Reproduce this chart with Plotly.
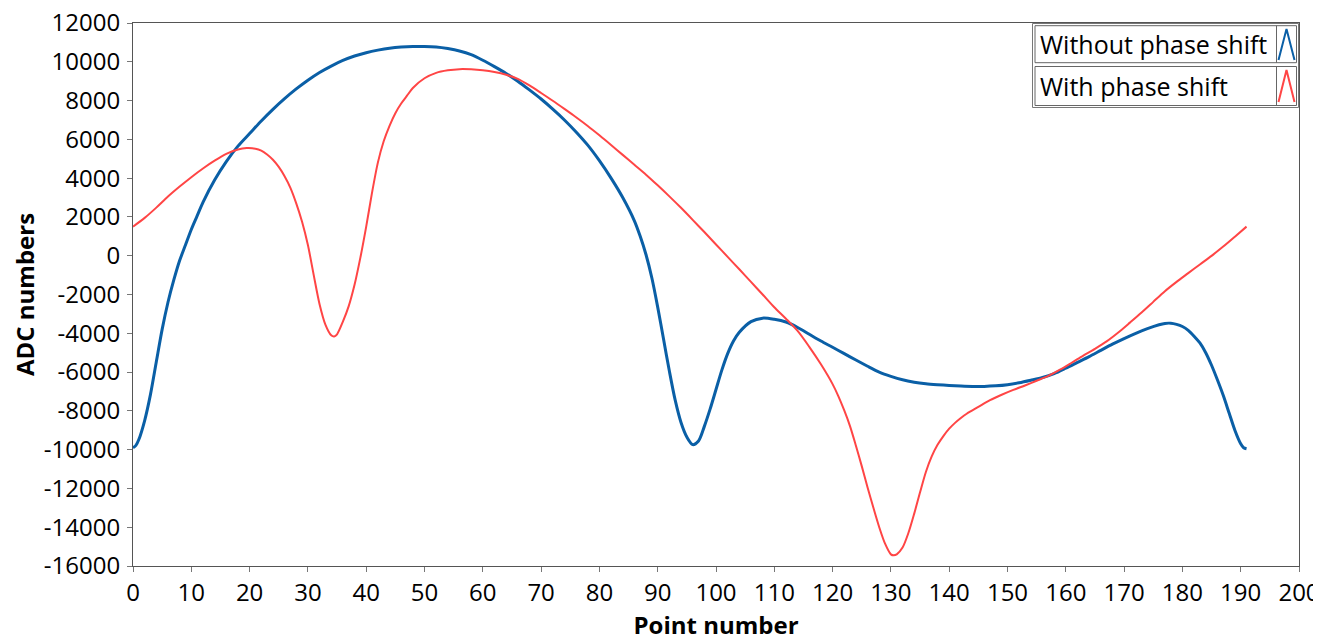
import plotly.graph_objects as go

# ---- data ----
blue_x = [0, 0.5, 1, 2, 3, 4, 5, 6, 7, 8, 9, 10, 11, 12, 14, 16, 18, 20, 22, 24, 26, 28, 30, 32, 34,
          36, 38, 40, 42, 44, 46, 48, 50, 52, 54, 56, 58, 60, 62, 64, 66, 68, 70, 72, 74, 76, 78,
          80, 82, 84, 86, 87, 88, 89, 90, 91, 92, 93, 94, 95, 96, 97, 98, 99, 100, 101, 102, 103,
          104, 106, 108, 110, 112, 114, 116, 118, 120, 122, 124, 126, 128, 130, 132, 134, 136,
          138, 140, 142, 144, 146, 148, 150, 152, 154, 156, 158, 160, 162, 164, 166, 168, 170,
          172, 174, 176, 177, 178, 179, 180, 181, 182, 183, 184, 185, 186, 187, 188, 189, 190,
          190.5, 191]
blue_y = [-9900, -9780, -9480, -8500, -7150, -5470, -3800, -2400, -1250, -250, 550, 1350, 2050,
          2750, 3900, 4850, 5650, 6300, 6950, 7550, 8100, 8600, 9050, 9450, 9780, 10070, 10300,
          10470, 10600, 10700, 10760, 10790, 10790, 10760, 10680, 10560, 10370, 10080, 9750,
          9400, 9000, 8550, 8080, 7560, 7000, 6380, 5700, 4900, 4000, 3000, 1800, 1000, 50,
          -1150, -2650, -4300, -5950, -7450, -8600, -9350, -9740, -9550, -8800, -7900, -6900,
          -5900, -5050, -4400, -3950, -3400, -3220, -3280, -3420, -3700, -4050, -4400, -4720,
          -5050, -5380, -5700, -6000, -6220, -6400, -6520, -6600, -6650, -6690, -6720, -6740,
          -6740, -6710, -6650, -6550, -6420, -6280, -6080, -5800, -5500, -5200, -4880, -4560,
          -4270, -4000, -3760, -3560, -3490, -3480, -3540, -3650, -3850, -4150, -4500, -5000,
          -5650, -6400, -7200, -8100, -9000, -9700, -9900, -9950]

red_x = [0, 2, 4, 6, 8, 10, 12, 14, 16, 18, 19.5, 21, 22, 23, 24, 25, 26, 27, 28, 29, 30, 31, 32,
         33, 34, 34.5, 35, 36, 37, 38, 39, 40, 41, 42, 43, 44, 45, 46, 47, 48, 50, 52, 54, 56, 58,
         60, 62, 64, 66, 68, 70, 72, 74, 76, 78, 80, 82, 84, 86, 88, 90, 92, 94, 96, 98, 100, 102,
         104, 106, 108, 110, 112, 114, 116, 118, 120, 121, 122, 123, 124, 125, 126, 127, 128, 129,
         130, 130.5, 131, 132, 133, 134, 135, 136, 137, 138, 139, 140, 141, 142, 143, 145, 147,
         149, 151, 153, 155, 157, 159, 161, 163, 165, 167, 169, 171, 173, 175, 177, 179, 181,
         183, 185, 187, 189, 191]
red_y = [1500, 1950, 2480, 3050, 3565, 4050, 4500, 4900, 5250, 5480, 5550, 5520, 5420, 5220, 4950,
         4580, 4100, 3500, 2700, 1750, 550, -1000, -2500, -3550, -4100, -4160, -4050, -3400,
         -2600, -1500, -100, 1500, 3250, 4800, 5900, 6700, 7350, 7850, 8250, 8650, 9150, 9430,
         9560, 9620, 9610, 9560, 9470, 9330, 9120, 8780, 8390, 7990, 7570, 7140, 6690, 6210,
         5710, 5200, 4690, 4180, 3630, 3060, 2470, 1850, 1220, 580, -60, -700, -1350, -2000,
         -2660, -3250, -3880, -4700, -5600, -6620, -7250, -7980, -8800, -9800, -10850, -11950,
         -13000, -14000, -14850, -15400, -15450, -15400, -15050, -14300, -13300, -12200, -11150,
         -10350, -9750, -9300, -8920, -8620, -8370, -8150, -7800, -7450, -7170, -6920, -6690,
         -6450, -6200, -5880, -5520, -5150, -4800, -4420, -3960, -3450, -2930, -2380, -1830,
         -1350, -900, -450, -10, 470, 980, 1500]

series_names = ["Without phase shift", "With phase shift"]
x_ticks = list(range(0, 201, 10))
y_ticks = list(range(-16000, 12001, 2000))
y_tick_labels = [str(v) for v in y_ticks]

BLUE = "#0A5FA6"
RED = "#FF4545"
FONT = "Open Sans"

fig = go.Figure()
fig.add_trace(go.Scatter(x=blue_x, y=blue_y, mode="lines", name=series_names[0],
                         line=dict(color=BLUE, width=3, shape="spline", smoothing=0.8)))
fig.add_trace(go.Scatter(x=red_x, y=red_y, mode="lines", name=series_names[1],
                         line=dict(color=RED, width=2, shape="spline", smoothing=0.8)))

# the page body adds an 8px offset; margins compensate for it
fig.update_layout(
    width=1321, height=637,
    margin=dict(l=125, r=30, t=15, b=79),
    paper_bgcolor="white", plot_bgcolor="white",
    showlegend=False,
    font=dict(family=FONT, size=24, color="#000"),
)
fig.update_xaxes(range=[0, 200], tickvals=x_ticks, ticks="outside", ticklen=5, tickcolor="#777",
                 showline=True, linecolor="#555", linewidth=1, mirror=True, showgrid=False,
                 zeroline=False, tickfont=dict(size=24), automargin=False,
                 ticklabeloverflow="allow",
                 title=dict(text="<b>Point number</b>", font=dict(size=24), standoff=5))
fig.update_yaxes(range=[-16000, 12000], tickvals=y_ticks, ticktext=y_tick_labels, ticks="outside",
                 ticklen=5, tickcolor="#777",
                 showline=True, linecolor="#555", linewidth=1, mirror=True, showgrid=False,
                 zeroline=False, tickfont=dict(size=24), ticklabelstandoff=2, automargin=False,
                 ticklabeloverflow="allow",
                 title=dict(text="<b>ADC numbers</b>", font=dict(size=24), standoff=17))

# ---- custom legend (paper coordinates; plot area spans page px 133..1299, 23..566) ----
def px2x(px):
    return (px - 133.0) / 1166.0

def py2y(py):
    return (566 - py) / 543.0

shapes = []
shapes.append(dict(type="rect", xref="paper", yref="paper", x0=px2x(1032.5), x1=px2x(1298.5),
                   y0=py2y(107.5), y1=py2y(23.5), line=dict(color="#777", width=1),
                   fillcolor="white", layer="above"))
for top, bot in [(25.7, 62.7), (66.5, 105.5)]:
    shapes.append(dict(type="rect", xref="paper", yref="paper", x0=px2x(1035), x1=px2x(1296.5),
                       y0=py2y(bot), y1=py2y(top), line=dict(color="#666", width=1), layer="above"))
    shapes.append(dict(type="line", xref="paper", yref="paper", x0=px2x(1276.5), x1=px2x(1276.5),
                       y0=py2y(bot), y1=py2y(top), line=dict(color="#666", width=1), layer="above"))
for col, top, bot, w in [(BLUE, 29, 60, 2), (RED, 70, 102, 2)]:
    path = "M {x0} {y0} L {x1} {y1} L {x2} {y0}".format(
        x0=px2x(1278.5), y0=py2y(bot), x1=px2x(1286.5), y1=py2y(top), x2=px2x(1294.5))
    shapes.append(dict(type="path", xref="paper", yref="paper", path=path,
                       line=dict(color=col, width=w), layer="above"))
fig.update_layout(shapes=shapes)

annotations = []
for name, cy in [(series_names[0], 44), (series_names[1], 86)]:
    annotations.append(dict(text=name, xref="paper", yref="paper", x=px2x(1038), y=py2y(cy),
                            xanchor="left", yanchor="middle", showarrow=False,
                            font=dict(family=FONT, size=25, color="#000")))
fig.update_layout(annotations=annotations)

fig.write_html("out.html")
